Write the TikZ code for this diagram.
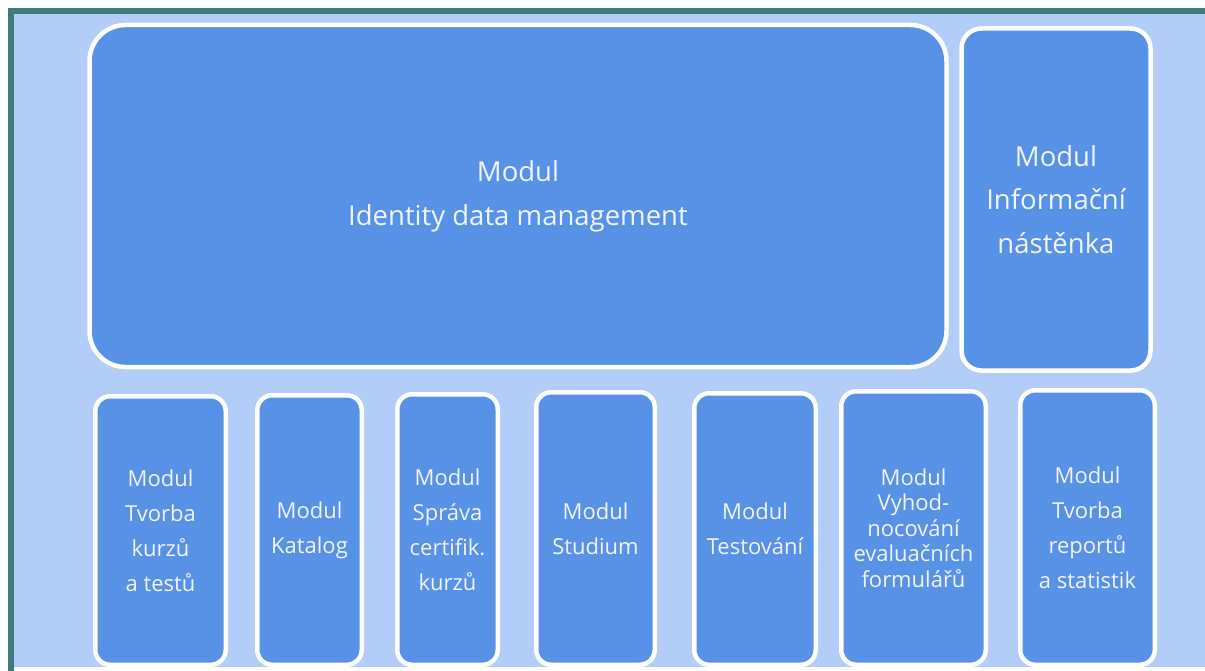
\documentclass[tikz,border=0pt]{standalone}
\usepackage{fontspec}
\setmainfont{Open Sans}
\definecolor{teal1}{HTML}{3E7D78}
\definecolor{bgblue}{HTML}{B2CEF8}
\definecolor{boxblue}{HTML}{5892E6}
\definecolor{txt}{HTML}{F2F4FA}
\tikzset{
  modbox/.style={draw=white, line width=4.5pt, fill=boxblue, rectangle, inner sep=0pt,
    align=center, text=txt, font=\fontsize{22}{35}\selectfont, rounded corners=15pt},
}
\begin{document}
\begin{tikzpicture}[x=1pt,y=-1pt]
\useasboundingbox (0,0) rectangle (1205,671);
\fill[white] (0,0) rectangle (1205,671);
\fill[teal1] (8,8) rectangle (1205,14);
\fill[teal1] (8,8) rectangle (14,671);
\fill[bgblue] (14,14) rectangle (1205,667);
% top row
\node[modbox, rounded corners=36pt, minimum width=857pt, minimum height=342pt,
  font=\fontsize{27.5}{44}\selectfont] (idm) at (518,196) {Modul\\Identity data management};
\node[modbox, rounded corners=20pt, minimum width=189pt, minimum height=342pt,
  font=\fontsize{27.5}{43.5}\selectfont] (info) at (1056,199.5) {Modul\\Informační\\nástěnka};
% bottom row
\node[modbox, minimum width=130.5pt, minimum height=268.5pt] (m1) at (160.5,530.5) {Modul\\Tvorba\\kurzů\\a testů};
\node[modbox, minimum width=104.5pt, minimum height=269.5pt] (m2) at (309.5,530) {Modul\\Katalog};
\node[modbox, minimum width=100.5pt, minimum height=270.5pt] (m3) at (447.5,529.5) {Modul\\Správa\\certifik.\\kurzů};
\node[modbox, minimum width=118.5pt, minimum height=272.5pt] (m4) at (595.5,528.5) {Modul\\Studium};
\node[modbox, minimum width=121.5pt, minimum height=271.5pt] (m5) at (755,529) {Modul\\Testování};
\node[modbox, minimum width=144.5pt, minimum height=273.5pt,
  font=\fontsize{22}{25.5}\selectfont] (m6) at (913.5,528) {Modul\\Vyhod-\\nocování\\evaluačních\\formulářů};
\node[modbox, minimum width=134.5pt, minimum height=274.5pt] (m7) at (1087.5,527.5) {Modul\\Tvorba\\reportů\\a statistik};
\end{tikzpicture}
\end{document}
